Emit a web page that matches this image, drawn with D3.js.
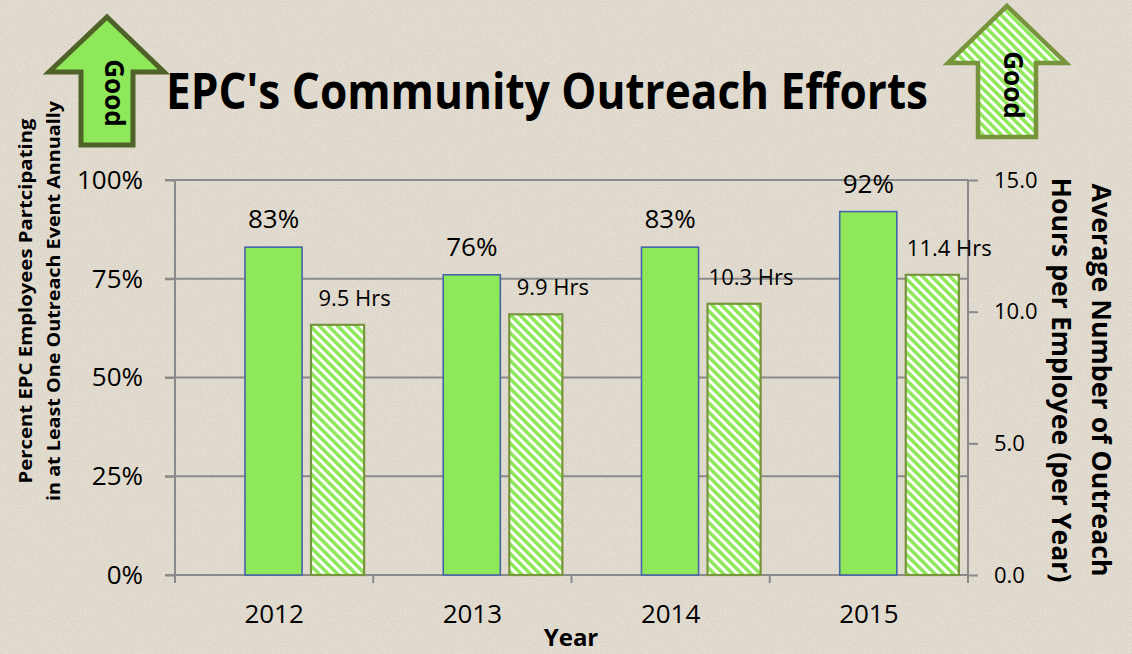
<!DOCTYPE html>
<html><head><meta charset="utf-8">
<script src="https://cdn.jsdelivr.net/npm/d3@7"></script>
<style>html,body{margin:0;padding:0;background:#e2dbcf;}svg{display:block;}text{font-family:"Open Sans",sans-serif;fill:#000;}</style>
</head><body>
<script>
const years = ["2012","2013","2014","2015"];
const percentValues = [0.83, 0.76, 0.83, 0.92];
const hoursValues = [9.5, 9.9, 10.3, 11.4];
const leftTicks = [0, 0.25, 0.5, 0.75, 1.0];
const rightTicks = [0, 5, 10, 15];
const titleText = "EPC's Community Outreach Efforts";
const leftTitle = ["Percent EPC Employees Partcipating", "in at Least One Outreach Event Annually"];
const rightTitle = ["Average Number of Outreach", "Hours per Employee (per Year)"];
const xTitle = "Year";
const arrowText = "Good";

const W = 1132, H = 654;
const M = {left:175, right:968, top:180, bottom:575};
const svg = d3.select("body").append("svg").attr("width",W).attr("height",H);
const defs = svg.append("defs");

// background texture
const f = defs.append("filter").attr("id","tex").attr("x",0).attr("y",0).attr("width","100%").attr("height","100%");
f.append("feTurbulence").attr("type","fractalNoise").attr("baseFrequency","0.8").attr("numOctaves",2).attr("seed",3).attr("result","n");
f.append("feColorMatrix").attr("type","matrix")
 .attr("values","0 0 0 0 0.45  0 0 0 0 0.42  0 0 0 0 0.36  0 0 0 -2.2 1.25");
svg.append("rect").attr("width",W).attr("height",H).attr("fill","#e3dcd0");
svg.append("rect").attr("width",W).attr("height",H).attr("filter","url(#tex)").attr("opacity",0.3);

// hatch pattern
const pat = defs.append("pattern").attr("id","hatch").attr("patternUnits","userSpaceOnUse")
  .attr("width",6.5).attr("height",6.5).attr("patternTransform","rotate(-45)");
pat.append("rect").attr("width",6.5).attr("height",6.5).attr("fill","#ffffff");
pat.append("rect").attr("width",3.6).attr("height",6.5).attr("fill","#8fe85a");

const x = d3.scaleBand().domain(years).range([M.left, M.right]).padding(0);
const yL = d3.scaleLinear().domain([0,1]).range([M.bottom, M.top]);
const yR = d3.scaleLinear().domain([0,15]).range([M.bottom, M.top]);
const step = x.step();
const gray = "#8a8a8a";

// gridlines
svg.append("g").selectAll("line").data(leftTicks).join("line")
  .attr("x1",M.left-10).attr("x2",M.right).attr("y1",d=>yL(d)).attr("y2",d=>yL(d))
  .attr("stroke",gray).attr("stroke-width",2);

// left axis
const gL = svg.append("g").attr("transform",`translate(${M.left},0)`)
  .call(d3.axisLeft(yL).tickValues(leftTicks).tickFormat(d3.format(".0%")).tickSize(10).tickPadding(22));
gL.select(".domain").remove();
gL.selectAll("line").attr("stroke",gray).attr("stroke-width",2);
gL.selectAll("text").style("font-size","26px").style("font-family","Open Sans").attr("fill","#000");
svg.append("line").attr("x1",M.left).attr("x2",M.left).attr("y1",M.top).attr("y2",M.bottom+8).attr("stroke",gray).attr("stroke-width",2);

// right axis
const gR = svg.append("g").attr("transform",`translate(${M.right},0)`)
  .call(d3.axisRight(yR).tickValues(rightTicks).tickFormat(d3.format(".1f")).tickSize(10).tickPadding(16));
gR.select(".domain").remove();
gR.selectAll("line").attr("stroke",gray).attr("stroke-width",2);
gR.selectAll("text").style("font-size","22px").style("font-family","Open Sans").attr("fill","#000");
svg.append("line").attr("x1",M.right).attr("x2",M.right).attr("y1",M.top).attr("y2",M.bottom+8).attr("stroke",gray).attr("stroke-width",2);

// bottom axis
const gB = svg.append("g").attr("transform",`translate(0,${M.bottom})`)
  .call(d3.axisBottom(x).tickSize(0).tickPadding(30));
gB.select(".domain").remove();
gB.selectAll("text").style("font-size","26px").style("font-family","Open Sans").attr("fill","#000");
svg.append("g").selectAll("line").data(years.concat(["end"])).join("line")
  .attr("x1",(d,i)=>M.left+i*step).attr("x2",(d,i)=>M.left+i*step)
  .attr("y1",M.bottom).attr("y2",M.bottom+8).attr("stroke",gray).attr("stroke-width",2);

// bars
const gW = step*0.288, gOff = step*0.353;
const hW = step*0.268, hOff = step*0.686;
svg.append("g").selectAll("rect").data(years).join("rect")
  .attr("x",d=>x(d)+gOff).attr("width",gW)
  .attr("y",(d,i)=>yL(percentValues[i])).attr("height",(d,i)=>M.bottom-yL(percentValues[i]))
  .attr("fill","#8fe85a").attr("stroke","#4465a6").attr("stroke-width",1.6);
svg.append("g").selectAll("rect").data(years).join("rect")
  .attr("x",d=>x(d)+hOff).attr("width",hW)
  .attr("y",(d,i)=>yR(hoursValues[i])).attr("height",(d,i)=>M.bottom-yR(hoursValues[i]))
  .attr("fill","url(#hatch)").attr("stroke","#77953d").attr("stroke-width",2.2);

// value labels
svg.append("g").selectAll("text").data(years).join("text")
  .attr("x",d=>x(d)+gOff+gW/2).attr("y",(d,i)=>yL(percentValues[i])-19)
  .attr("text-anchor","middle").style("font-size","26px")
  .text((d,i)=>d3.format(".0%")(percentValues[i]));
svg.append("g").selectAll("text").data(years).join("text")
  .attr("x",d=>x(d)+hOff+hW/2+17).attr("y",(d,i)=>yR(hoursValues[i])-19)
  .attr("text-anchor","middle").style("font-size","22px")
  .text((d,i)=>d3.format(".1f")(hoursValues[i])+" Hrs");

// title
svg.append("text").attr("x",547).attr("y",109).attr("text-anchor","middle")
  .style("font-size","51px").style("font-weight","bold")
  .attr("textLength",762).attr("lengthAdjust","spacingAndGlyphs").text(titleText);

// x title
svg.append("text").attr("x",571).attr("y",646).attr("text-anchor","middle")
  .style("font-size","24px").style("font-weight","bold").text(xTitle);

// left title
const lt = svg.append("g").attr("transform","translate(32,301) rotate(-90)");
lt.append("text").attr("x",0).attr("y",0).attr("text-anchor","middle")
  .style("font-size","18px").style("font-weight","bold")
  .attr("textLength",365).attr("lengthAdjust","spacingAndGlyphs").text(leftTitle[0]);
lt.append("text").attr("x",0).attr("y",28).attr("text-anchor","middle")
  .style("font-size","18px").style("font-weight","bold")
  .attr("textLength",400).attr("lengthAdjust","spacingAndGlyphs").text(leftTitle[1]);

// right title
const rt = svg.append("g").attr("transform","translate(1092,380) rotate(90)");
rt.append("text").attr("x",0).attr("y",0).attr("text-anchor","middle")
  .style("font-size","27px").style("font-weight","bold")
  .attr("textLength",393).attr("lengthAdjust","spacingAndGlyphs").text(rightTitle[0]);
rt.append("text").attr("x",0).attr("y",40).attr("text-anchor","middle")
  .style("font-size","27px").style("font-weight","bold")
  .attr("textLength",405).attr("lengthAdjust","spacingAndGlyphs").text(rightTitle[1]);

// arrows
function arrow(tipX, tipY, headY, headL, headR, shaftL, shaftR, bottom, fill, stroke, sw){
  const pts = [[tipX,tipY],[headR,headY],[shaftR,headY],[shaftR,bottom],[shaftL,bottom],[shaftL,headY],[headL,headY]];
  svg.append("path").attr("d", d3.line()(pts)+"Z").attr("fill",fill).attr("stroke",stroke)
    .attr("stroke-width",sw).attr("stroke-linejoin","miter");
}
arrow(107,17,72,49,164,81,133,145,"#8fe85a","#4f6228",5);
arrow(1007,6,63,948,1066,978,1036,137,"url(#hatch)","#77933c",4.5);

svg.append("text").attr("transform","translate(105,93) rotate(90)").attr("text-anchor","middle")
  .style("font-size","26px").style("font-weight","bold").text(arrowText);
svg.append("text").attr("transform","translate(1004,85) rotate(90)").attr("text-anchor","middle")
  .style("font-size","26px").style("font-weight","bold").text(arrowText);
</script>
</body></html>
